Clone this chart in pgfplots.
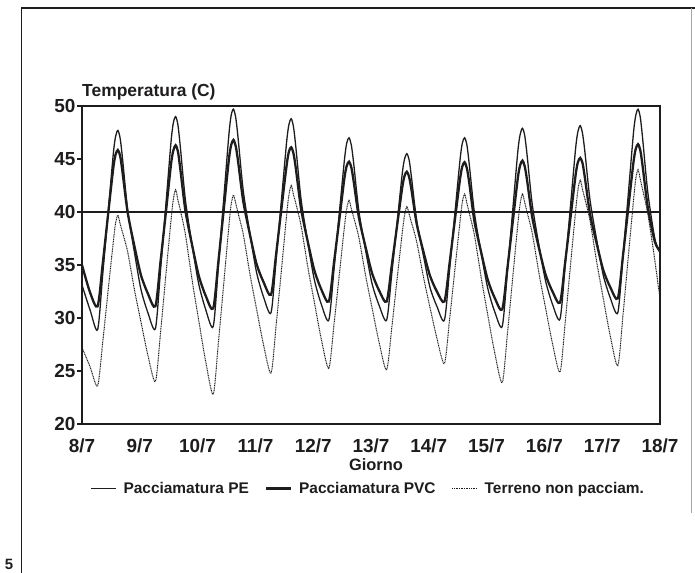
\documentclass[border=0pt]{standalone}
\usepackage{fontspec}
\setmainfont{Liberation Sans}
\usepackage{pgfplots}
\usepackage{pgfplotstable}
\pgfplotsset{compat=1.18}

\definecolor{ink}{RGB}{30,28,28}

% giorno (0 = 8/7), PE, PVC, terreno nudo
\pgfplotstableread{
x pe pvc terr
0 33.1 35.0 27.2
0.14 30.75 32.4 25.4
0.27 28.9 31.1 23.6
0.36 34.2 35.2 27.8
0.45 39.8 39.7 32.5
0.54 45.4 44.1 37.1
0.58 47.1 45.4 38.9
0.62 47.7 45.85 39.7
0.66 46.95 45.3 38.9
0.70 45.1 43.8 38.1
0.79 40.2 39.95 36.25
0.91 36.1 36.7 32.6
1.02 32.7 34.05 29.65
1.14 30.5 32.3 26.5
1.27 29.0 31.1 24.0
1.36 34.6 35.4 28.7
1.45 40.6 39.9 34.0
1.54 46.6 44.5 39.2
1.58 48.4 45.8 41.2
1.62 49.0 46.3 42.1
1.66 48.2 45.7 41.1
1.70 46.2 44.1 40.2
1.79 41.1 40.1 37.85
1.91 36.7 36.75 33.4
2.02 33.2 34.0 29.75
2.14 30.8 32.1 25.9
2.27 29.2 30.9 22.8
2.36 34.9 35.35 27.7
2.45 41.1 40.1 33.1
2.54 47.2 44.9 38.6
2.58 49.1 46.3 40.7
2.62 49.7 46.8 41.6
2.66 48.9 46.2 40.8
2.70 47.0 44.8 39.9
2.79 42.0 41.0 37.9
2.91 37.8 37.75 34.0
3.02 34.3 35.1 30.85
3.14 32.0 33.4 27.5
3.27 30.5 32.2 24.8
3.36 35.6 36.1 29.4
3.45 41.1 40.3 34.5
3.54 46.6 44.4 39.7
3.58 48.25 45.7 41.6
3.62 48.8 46.1 42.5
3.66 48.0 45.5 41.6
3.70 46.1 44.1 40.8
3.79 41.2 40.3 38.7
3.91 37.0 37.1 34.7
4.02 33.6 34.5 31.5
4.14 31.3 32.7 28.0
4.27 29.8 31.55 25.25
4.36 34.6 35.25 29.4
4.45 39.8 39.2 34.0
4.54 44.9 43.2 38.6
4.58 46.5 44.35 40.3
4.62 47.0 44.75 41.1
4.66 46.3 44.2 40.3
4.70 44.6 42.9 39.5
4.79 40.1 39.5 37.6
4.91 36.3 36.6 33.9
5.02 33.2 34.2 30.9
5.14 31.2 32.6 27.7
5.27 29.8 31.55 25.1
5.36 34.2 35.0 29.1
5.45 38.9 38.65 33.6
5.54 43.6 42.3 38.0
5.58 45.0 43.4 39.7
5.62 45.5 43.8 40.5
5.66 44.9 43.3 39.8
5.70 43.3 42.1 39.0
5.79 39.2 38.9 37.2
5.91 35.8 36.2 33.8
6.02 32.9 34.0 31.0
6.14 31.1 32.5 28.1
6.27 29.8 31.55 25.7
6.36 34.6 35.2 29.9
6.45 39.8 39.2 34.5
6.54 44.9 43.1 39.1
6.58 46.5 44.3 40.9
6.62 47.0 44.7 41.7
6.66 46.3 44.1 40.8
6.70 44.5 42.75 39.9
6.79 39.9 39.1 37.8
6.91 36.0 36.1 33.7
7.02 32.8 33.6 30.3
7.14 30.6 31.9 26.75
7.27 29.2 30.8 23.9
7.36 34.4 34.7 28.5
7.45 40.05 38.95 33.7
7.54 45.7 43.2 38.85
7.58 47.3 44.4 40.8
7.62 47.9 44.85 41.7
7.66 47.2 44.3 40.9
7.70 45.4 43.0 40.0
7.79 40.7 39.5 38.0
7.91 36.7 36.5 34.1
8.02 33.5 34.1 30.95
8.14 31.3 32.5 27.6
8.27 29.9 31.45 24.9
8.36 35.0 35.3 29.6
8.45 40.5 39.4 34.9
8.54 46.0 43.5 40.1
8.58 47.6 44.7 42.1
8.62 48.15 45.1 43.0
8.66 47.4 44.6 42.1
8.70 45.7 43.25 41.25
8.79 41.1 39.8 39.15
8.91 37.2 36.9 35.1
9.02 34.0 34.5 31.8
9.14 31.9 32.9 28.3
9.27 30.5 31.85 25.5
9.36 35.9 35.9 30.3
9.45 41.6 40.3 35.7
9.54 47.4 44.65 41.0
9.58 49.1 45.95 43.1
9.62 49.7 46.4 44.0
9.66 48.9 45.8 43.05
9.70 46.9 44.3 42.1
9.79 41.8 40.4 39.8
9.91 37.5 37.2 35.45
10 36.2 36.3 31.8
}\dati

\begin{document}
\begin{tikzpicture}
\useasboundingbox (0,0) rectangle (695bp,573bp);
% cornice della pagina
\draw[ink, line width=1.6bp] (21.5bp,0) -- (21.5bp,565bp) -- (695bp,565bp);
\draw[gray!70, line width=0.8bp] (691bp,565bp) -- (691bp,60bp);
\node[font=\fontsize{15}{16}\selectfont\bfseries, text=ink, anchor=base] at (9bp,4bp) {5};

\begin{axis}[
    at={(82bp,149bp)}, anchor=south west,
    scale only axis,
    width=578bp, height=318bp,
    xmin=0, xmax=10, ymin=20, ymax=50,
    axis line style={ink, line width=1.2bp},
    xtick={0,1,...,10},
    xticklabels={8/7,9/7,10/7,11/7,12/7,13/7,14/7,15/7,16/7,17/7,18/7},
    ytick={20,25,...,50},
    xtick style={draw=none},
    ytick pos=left,
    tick align=outside,
    major tick length=5bp,
    ytick style={ink, line width=1.1bp},
    /pgf/number format/assume math mode=true,
    ticklabel style={font=\fontsize{19}{21}\selectfont\bfseries, text=ink},
    xticklabel style={anchor=base, yshift=-23bp},
    yticklabel style={xshift=2bp},
    xlabel={Giorno},
    xlabel style={font=\fontsize{16.5}{18}\selectfont\bfseries, text=ink,
        at={(axis description cs:0.5,-0.145)}, anchor=base, xshift=5bp},
    legend style={draw=none, fill=none, legend columns=3,
        font=\fontsize{15.5}{17}\selectfont\bfseries, text=ink,
        at={(axis description cs:0.495,-0.203)}, anchor=center,
        /tikz/every even column/.append style={column sep=14bp}},
    legend image code/.code={\draw[#1] (0bp,0bp) -- (25bp,0bp);},
    clip mode=individual,
]
\addplot[ink, line width=1.3bp, smooth, tension=0.45] table[x=x, y=pe] {\dati};
\addlegendentry{\hspace{5bp}Pacciamatura PE}
\addplot[ink, line width=2.3bp, smooth, tension=0.45] table[x=x, y=pvc] {\dati};
\addlegendentry{\hspace{5bp}Pacciamatura PVC}
\addplot[ink, line width=1.0bp, dash pattern=on 1bp off 0.7bp, smooth, tension=0.45] table[x=x, y=terr] {\dati};
\addlegendentry{\hspace{5bp}Terreno non pacciam.}
\addplot[ink, line width=1.3bp, forget plot] coordinates {(0,40) (10,40)};
\node[anchor=base west, font=\fontsize{17.5}{19}\selectfont\bfseries, text=ink, inner sep=0pt]
    at (rel axis cs:0,1) [yshift=9bp] {Temperatura (C)};
\end{axis}
\end{tikzpicture}
\end{document}
